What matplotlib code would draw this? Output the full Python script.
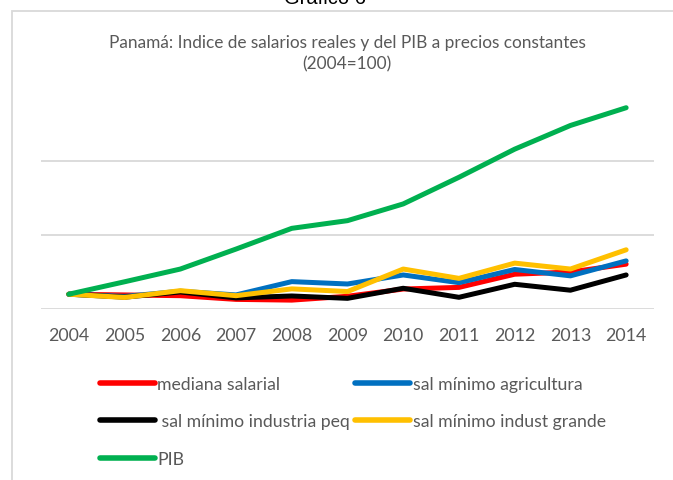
import matplotlib.pyplot as plt
from matplotlib.patches import Rectangle
from matplotlib.lines import Line2D

plt.rcParams['font.family'] = ['Lato', 'DejaVu Sans']

years = ['2004', '2005', '2006', '2007', '2008', '2009', '2010', '2011', '2012', '2013', '2014']
mediana_salarial = [100, 99.5, 99, 96.5, 96, 98.6, 103.5, 104.6, 113.5, 115, 120.3]
sal_agricultura = [100, 98.5, 102, 99.5, 108.5, 106.9, 113, 107.8, 116.7, 112.4, 122.5]
sal_industria_peq = [100, 98, 101.5, 97.5, 98.8, 97.2, 104, 97.9, 106.7, 102.7, 113]
sal_indust_grande = [100, 97.8, 102.4, 99, 103.6, 101.8, 117, 110.7, 121, 117, 130]
pib = [100, 108.4, 117, 130.5, 144.5, 149.7, 161, 179, 198, 214, 226]

labels = ['mediana salarial', 'sal mínimo agricultura', ' sal mínimo industria peq',
          'sal mínimo indust grande', 'PIB']
colors = ['#FF0000', '#0070C0', '#000000', '#FFC000', '#00B050']
series = [mediana_salarial, sal_agricultura, sal_industria_peq, sal_indust_grande, pib]

text_col = '#595959'
grid_col = '#D9D9D9'

fig = plt.figure(figsize=(6.73, 4.81), dpi=100)
ax = fig.add_axes([41 / 673, 1 - 310 / 481, 613 / 673, 222 / 481])

x = list(range(len(years)))
for vals, col, lab in zip(series, colors, labels):
    ax.plot(x, vals, color=col, lw=3.6, solid_capstyle='round',
            solid_joinstyle='round', label=lab, clip_on=False)

ax.set_xlim(-0.5, len(years) - 0.5)
ax.set_ylim(90, 240)
ax.set_yticks([90, 140, 190])
ax.yaxis.grid(True, color=grid_col, lw=1.3)
ax.set_axisbelow(True)
ax.tick_params(axis='y', length=0, labelleft=False)
ax.set_xticks(x)
ax.set_xticklabels(years)
ax.tick_params(axis='x', length=0, pad=13, labelsize=12.8, labelcolor=text_col)
for s in ax.spines.values():
    s.set_visible(False)

fig.text(347 / 673, 1 - 54 / 481,
         'Panamá: Indice de salarios reales y del PIB a precios constantes\n(2004=100)',
         ha='center', va='center', fontsize=12.4, color=text_col, linespacing=1.38)

fig.text(325 / 673, 1 - 4 / 481, 'Gráfico 6', ha='center', va='baseline',
         fontsize=14.5, color='black', family=['Liberation Sans', 'DejaVu Sans'])

# chart border
fig.patches.append(Rectangle((12 / 673, -0.1), 1.2, 1.1 - 12 / 481,
                             transform=fig.transFigure, fill=False,
                             edgecolor=grid_col, lw=1.3))

# legend laid out row by row
order = [0, 2, 4, 1, 3]
leg_handles = [Line2D([], [], color=colors[i], lw=4, solid_capstyle='round') for i in order]
fig.legend(leg_handles, [labels[i] for i in order], ncol=2,
           loc='upper left', bbox_to_anchor=(84 / 673, 1 - 361 / 481),
           frameon=False, fontsize=12.7, handlelength=3.1, handletextpad=0.15,
           columnspacing=0.3, labelspacing=1.22, labelcolor=text_col)

fig.savefig('out.png', dpi=100)
